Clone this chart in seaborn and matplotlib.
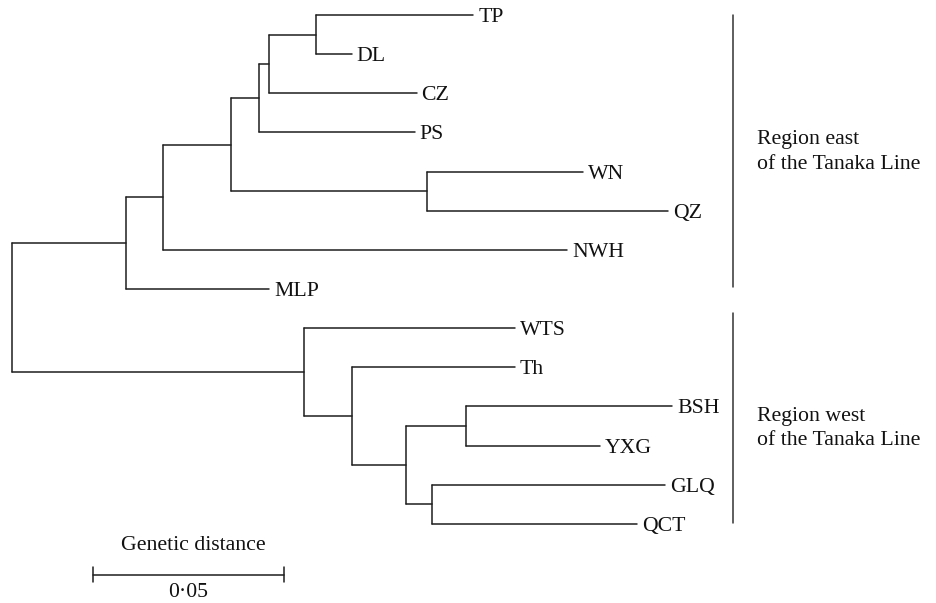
import matplotlib
matplotlib.use("Agg")
import matplotlib.pyplot as plt
import seaborn as sns
import pandas as pd
import numpy as np

# tree: each node, its parent and the branch length (genetic distance)
node_names = ["A", "MLP", "B", "NWH", "C", "WQ", "WN", "QZ", "D", "PS", "E", "CZ",
              "F", "TP", "DL", "G", "WTS", "H", "Th", "I", "J", "BSH", "YXG", "K",
              "GLQ", "QCT"]
node_parent = ["root", "A", "A", "B", "B", "C", "WQ", "WQ", "C", "D", "D", "E",
               "E", "F", "F", "root", "G", "G", "H", "H", "I", "J", "J", "I",
               "K", "K"]
branch_length = [0.0298, 0.0375, 0.0097, 0.1058, 0.0178, 0.0513, 0.0409, 0.0631,
                 0.0073, 0.0408, 0.0026, 0.0387, 0.0123, 0.0413, 0.0094, 0.0764,
                 0.0553, 0.0126, 0.0427, 0.0141, 0.0157, 0.0540, 0.0351, 0.0068,
                 0.0610, 0.0537]
leaf_order = ["TP", "DL", "CZ", "PS", "WN", "QZ", "NWH", "MLP",
              "WTS", "Th", "BSH", "YXG", "GLQ", "QCT"]

scale_value = 0.05
scale_label = "0\u00b705"
scale_title = "Genetic distance"
region_labels = ["Region east\nof the Tanaka Line", "Region west\nof the Tanaka Line"]

# depths
depth = {"root": 0.0}
for n, p, b in zip(node_names, node_parent, branch_length):
    depth[n] = depth[p] + b

children = {}
for n, p in zip(node_names, node_parent):
    children.setdefault(p, []).append(n)

ypos = {n: i for i, n in enumerate(leaf_order)}


def get_y(n):
    if n in ypos:
        return ypos[n]
    ys = [get_y(c) for c in children[n]]
    ypos[n] = (min(ys) + max(ys)) / 2
    return ypos[n]


get_y("root")

rows = []
seg = 0
for n, p in zip(node_names, node_parent):
    rows.append((seg, depth[p], ypos[n]))
    rows.append((seg, depth[n], ypos[n]))
    seg += 1
for n, ch in children.items():
    ys = [ypos[c] for c in ch]
    rows.append((seg, depth[n], min(ys)))
    rows.append((seg, depth[n], max(ys)))
    seg += 1
df = pd.DataFrame(rows, columns=["seg", "x", "y"])

sns.set_style("white")
plt.rcParams["font.family"] = ["Liberation Serif", "DejaVu Serif"]

fig = plt.figure(figsize=(9.36, 6.03), dpi=100)
ax = fig.add_axes([0, 0, 1, 1])
col = "#1e1e1e"
sns.lineplot(data=df, x="x", y="y", units="seg", estimator=None, sort=False,
             color=col, linewidth=1.1, legend=False, ax=ax)

fs = 15.7
tcol = "#111111"
leaves = set(leaf_order)
for n in node_names:
    if n in leaves:
        ax.annotate(n, (depth[n], ypos[n]), xytext=(3.5, 0), textcoords="offset points",
                    ha="left", va="center_baseline", fontsize=fs, color=tcol)

# scale bar
sx0 = 0.0212
sy = 14.30
ax.plot([sx0, sx0 + scale_value], [sy, sy], color=col, lw=1.1)
for xx in [sx0, sx0 + scale_value]:
    ax.plot([xx, xx], [sy - 0.19, sy + 0.19], color=col, lw=1.1)
ax.text(sx0 + scale_value / 2 + 0.0012, 13.49, scale_title, ha="center",
        va="center_baseline", fontsize=fs, color=tcol)
ax.text(sx0 + scale_value / 2, 14.69, scale_label, ha="center",
        va="center_baseline", fontsize=fs, color=tcol)

# region brackets
lx = 0.1887
ax.plot([lx, lx], [0.0, 6.95], color="#333333", lw=1.1)
ax.plot([lx, lx], [7.61, 12.98], color="#333333", lw=1.1)
ax.text(0.1950, 3.5, region_labels[0], ha="left", va="center", fontsize=fs,
        linespacing=1.38, color=tcol)
ax.text(0.1950, 10.56, region_labels[1], ha="left", va="center", fontsize=fs,
        linespacing=1.38, color=tcol)

ax.set_xlim(-12 / 3820, 924 / 3820)
ax.set_ylim(588 / 39.15, -15 / 39.15)
ax.axis("off")

fig.savefig("out.png", dpi=100)
